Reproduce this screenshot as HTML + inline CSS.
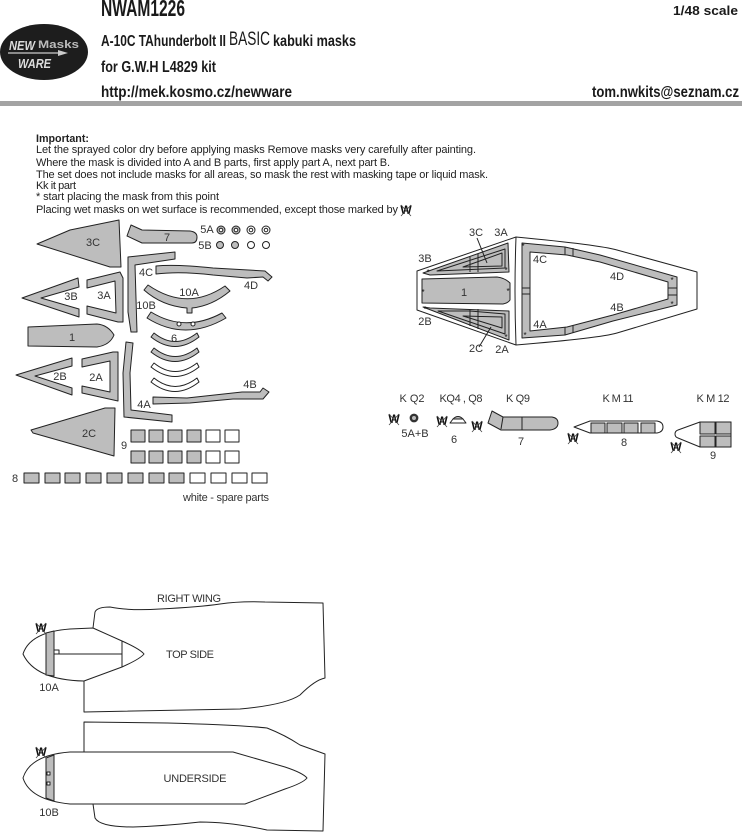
<!DOCTYPE html>
<html><head><meta charset="utf-8"><style>
html,body{margin:0;padding:0;background:#fff;width:742px;height:832px;overflow:hidden}
svg{display:block}
.h{font-family:"Liberation Sans",sans-serif;font-weight:bold;fill:#1a1a1a}
.n{font-family:"Liberation Sans",sans-serif;font-size:11px;fill:#222}
.l{font-family:"Liberation Sans",sans-serif;font-size:11px;fill:#333;text-anchor:middle}
.p{fill:#bdbdbd;stroke:#222;stroke-width:1;stroke-linejoin:round}
.w{fill:#fff;stroke:#222;stroke-width:1;stroke-linejoin:round}
.o{fill:none;stroke:#222;stroke-width:1;stroke-linejoin:round}
.m{font-family:"Liberation Sans",sans-serif;font-size:12px;font-weight:bold;fill:#111;text-anchor:middle}
.s{font-family:"Liberation Sans",sans-serif;font-size:8px;fill:#111;text-anchor:middle}
</style></head><body>
<svg width="742" height="832" viewBox="0 0 742 832" xmlns="http://www.w3.org/2000/svg">
<defs>
<g id="wm"><text class="m" x="0" y="4">W</text><path d="M-5,-5L5,6M5,-5L-5,6" stroke="#444" stroke-width=".8"/></g>
</defs>
<!-- header -->
<ellipse cx="44" cy="52" rx="44" ry="28" fill="#1d1d1d"/>
<text x="9" y="50" font-family="Liberation Sans" font-weight="bold" font-style="italic" font-size="13" fill="#ddd" textLength="26" lengthAdjust="spacingAndGlyphs">NEW</text>
<text x="38" y="48" font-family="Liberation Sans" font-weight="bold" font-size="11" fill="#bbb" textLength="41" lengthAdjust="spacingAndGlyphs">Masks</text>
<path d="M8,53H64" stroke="#ccc" stroke-width="1.2"/><path d="M58,50L68,53L58,56Z" fill="#ccc"/>
<text x="18" y="68" font-family="Liberation Sans" font-weight="bold" font-style="italic" font-size="13" fill="#ddd" textLength="33" lengthAdjust="spacingAndGlyphs">WARE</text>
<text class="h" x="101" y="16" font-size="23" textLength="84" lengthAdjust="spacingAndGlyphs">NWAM1226</text>
<text class="h" x="101" y="46" font-size="16" textLength="125" lengthAdjust="spacingAndGlyphs">A-10C TAhunderbolt II</text>
<text class="h" x="229" y="45" font-size="19" style="font-weight:normal" textLength="41" lengthAdjust="spacingAndGlyphs">BASIC</text>
<text class="h" x="273" y="46" font-size="16" textLength="83" lengthAdjust="spacingAndGlyphs">kabuki masks</text>
<text class="h" x="101" y="72" font-size="16" textLength="115" lengthAdjust="spacingAndGlyphs">for G.W.H L4829 kit</text>
<text class="h" x="101" y="97" font-size="16" textLength="191" lengthAdjust="spacingAndGlyphs">http://mek.kosmo.cz/newware</text>
<text class="h" x="673" y="15" font-size="13" textLength="65" lengthAdjust="spacingAndGlyphs">1/48 scale</text>
<text class="h" x="592" y="97" font-size="16" textLength="147" lengthAdjust="spacingAndGlyphs">tom.nwkits@seznam.cz</text>
<rect x="0" y="101" width="742" height="5" fill="#a3a3a3"/>
<!-- notes -->
<text class="n" x="36" y="142" font-weight="bold" textLength="53" lengthAdjust="spacingAndGlyphs">Important:</text>
<text class="n" x="36" y="153" textLength="440" lengthAdjust="spacing">Let the sprayed color dry before applying masks Remove masks very carefully after painting.</text>
<text class="n" x="36" y="166" textLength="354" lengthAdjust="spacing">Where the mask is divided into A and B parts, first apply part A, next part B.</text>
<text class="n" x="36" y="178" textLength="452" lengthAdjust="spacing">The set does not include masks for all areas, so mask the rest with masking tape or liquid mask.</text>
<text class="n" x="36" y="189" textLength="40" lengthAdjust="spacing">Kk it part</text>
<text class="n" x="36" y="200" textLength="183" lengthAdjust="spacing">* start placing the mask from this point</text>
<text class="n" x="36" y="213" textLength="362" lengthAdjust="spacing">Placing wet masks on wet surface is recommended, except those marked by</text>
<use href="#wm" x="406" y="210"/>
<!-- left parts -->
<path class="p" d="M37,244L70,230L119,220L121,267L110,267Z"/>
<path class="p" d="M127,236L131,225L142,230L190,231Q197,232 197,237Q197,243 192,243L142,243Z"/>
<path class="p" d="M128,257L175,252V259L135,265L137,332L131,332L128,312Z"/>
<path class="p" d="M156,266Q175,264 213,268L265,271L272,277L268,281L263,277L247,278L213,275Q180,271 156,274Z"/>
<path class="p" d="M144,290L148,285Q187,312 225,286L230,291Q212,306 192,308V313H187V308Q162,306 144,290Z"/>
<path class="p" d="M147,318L151,312Q185,333 222,313L226,318Q185,342 147,318Z"/>
<circle cx="179" cy="324" r="2" class="w"/><circle cx="193" cy="324" r="2" class="w"/>
<path class="p" d="M151,337L154,333Q175,350 197,333L199,337Q175,356 151,337Z"/>
<path class="p" d="M151,352L154,348Q175,365 197,348L199,352Q175,371 151,352Z"/>
<path class="w" d="M151,367L154,363Q175,380 197,363L199,367Q175,386 151,367Z"/>
<path class="w" d="M151,382L154,378Q175,395 197,378L199,382Q175,401 151,382Z"/>
<path class="p" d="M22,298L78,278L79,287L41,298L79,309V317Z"/>
<path class="p" d="M87,280L120,272L123,278V322L118,322L87,314V306L116,313L115,281L87,288Z"/>
<path class="p" d="M28,327L97,324Q108,325 114,335Q110,345 97,347L28,346Z"/>
<path class="p" d="M126,342L133,343L130,373L131,410L172,415V422L124,417L123,373Z"/>
<path class="p" d="M153,397L187,398L242,392L260,392L263,388L269,392L263,399H233L190,403L153,404Z"/>
<path class="p" d="M16,375L72,358V366L35,376L72,388V395Z"/>
<path class="p" d="M82,359L113,352H118V401L82,393V386L110,392V361L82,367Z"/>
<path class="p" d="M31,430L105,408H115L114,456L33,433Z"/>
<g>
<circle class="p" cx="221" cy="230" r="4"/><circle class="w" cx="221" cy="230" r="1.8"/>
<circle class="p" cx="236" cy="230" r="4"/><circle class="w" cx="236" cy="230" r="1.8"/>
<circle class="w" cx="251" cy="230" r="4"/><circle class="w" cx="251" cy="230" r="1.8"/>
<circle class="w" cx="266" cy="230" r="4"/><circle class="w" cx="266" cy="230" r="1.8"/>
<circle class="p" cx="220" cy="245" r="3.5"/><circle class="p" cx="235" cy="245" r="3.5"/>
<circle class="w" cx="251" cy="245" r="3.5"/><circle class="w" cx="266" cy="245" r="3.5"/>
</g>
<!-- squares -->
<g>
<rect class="p" x="131" y="430" width="14" height="12"/><rect class="p" x="149" y="430" width="14" height="12"/><rect class="p" x="168" y="430" width="14" height="12"/><rect class="p" x="187" y="430" width="14" height="12"/>
<rect class="w" x="206" y="430" width="14" height="12"/><rect class="w" x="225" y="430" width="14" height="12"/>
<rect class="p" x="131" y="451" width="14" height="12"/><rect class="p" x="149" y="451" width="14" height="12"/><rect class="p" x="168" y="451" width="14" height="12"/><rect class="p" x="187" y="451" width="14" height="12"/>
<rect class="w" x="206" y="451" width="14" height="12"/><rect class="w" x="225" y="451" width="14" height="12"/>
<rect class="p" x="24" y="473" width="15" height="10"/><rect class="p" x="45" y="473" width="15" height="10"/><rect class="p" x="65" y="473" width="15" height="10"/><rect class="p" x="86" y="473" width="15" height="10"/>
<rect class="p" x="107" y="473" width="15" height="10"/><rect class="p" x="128" y="473" width="15" height="10"/><rect class="p" x="149" y="473" width="15" height="10"/><rect class="p" x="169" y="473" width="15" height="10"/>
<rect class="w" x="190" y="473" width="15" height="10"/><rect class="w" x="211" y="473" width="15" height="10"/><rect class="w" x="232" y="473" width="15" height="10"/><rect class="w" x="252" y="473" width="15" height="10"/>
</g>
<!-- labels left -->
<g>
<text class="l" x="93" y="246">3C</text><text class="l" x="167" y="241">7</text>
<text class="l" x="207" y="233">5A</text><text class="l" x="205" y="249">5B</text>
<text class="l" x="146" y="276">4C</text><text class="l" x="251" y="289">4D</text>
<text class="l" x="189" y="296">10A</text><text class="l" x="146" y="309">10B</text>
<text class="l" x="71" y="300">3B</text><text class="l" x="104" y="299">3A</text>
<text class="l" x="72" y="341">1</text><text class="l" x="174" y="342">6</text>
<text class="l" x="60" y="380">2B</text><text class="l" x="96" y="381">2A</text>
<text class="l" x="144" y="408">4A</text><text class="l" x="250" y="388">4B</text>
<text class="l" x="89" y="437">2C</text><text class="l" x="124" y="449">9</text>
<text class="l" x="15" y="482">8</text>
<text class="l" x="226" y="501" textLength="86" lengthAdjust="spacing">white - spare parts</text>
</g>
<!-- canopy -->
<path class="o" d="M417,271L516,237Q600,245 617,250L697,272V309L617,333Q600,338 516,345L417,310Z"/>
<path class="o" d="M516,237Q514,291 516,345"/>
<path class="p" d="M522,243L565,247L600,255L677,277V305L613,321L565,335L522,338Z"/>
<path class="w" d="M530,252L567,255L600,262L668,282V299L613,315L567,327L530,331Z"/>
<path class="o" d="M565,247V255M573,248V256M565,327V335M573,325V333M522,288H530M522,294H530M668,288H677M668,295H677"/>
<path class="p" d="M423,273L508,243L509,272L430,275Z"/>
<path class="o" d="M437,271L505,249V268L437,271ZM463,267L502,253V266ZM470,257V272M478,254V272"/>
<path class="p" d="M422,279L497,277Q505,278 510,283V300Q508,303 503,304L422,303Z"/>
<path class="p" d="M423,307L430,308L509,311V340Z"/>
<path class="o" d="M438,311L505,334V314L470,311ZM463,316L502,328V317ZM470,309V326M478,309V329"/>
<path class="o" d="M477,238L487,263M491,327L479,347"/>
<g class="s">
<text class="s" x="428" y="275">*</text><text class="s" x="506" y="273">*</text><text class="s" x="523" y="249">*</text>
<text class="s" x="672" y="283">*</text><text class="s" x="672" y="307">*</text><text class="s" x="525" y="338">*</text>
<text class="s" x="423" y="295">*</text><text class="s" x="508" y="294">*</text><text class="s" x="425" y="312">*</text><text class="s" x="506" y="340">*</text>
</g>
<g>
<text class="l" x="476" y="236">3C</text><text class="l" x="501" y="236">3A</text>
<text class="l" x="425" y="262">3B</text><text class="l" x="425" y="325">2B</text>
<text class="l" x="476" y="352">2C</text><text class="l" x="502" y="353">2A</text>
<text class="l" x="540" y="263">4C</text><text class="l" x="617" y="280">4D</text>
<text class="l" x="540" y="328">4A</text><text class="l" x="617" y="311">4B</text>
<text class="l" x="464" y="296">1</text>
</g>
<!-- small parts -->
<text class="l" x="412" y="402" textLength="25" lengthAdjust="spacing">K Q2</text>
<text class="l" x="461" y="402" textLength="43" lengthAdjust="spacing">KQ4 , Q8</text>
<text class="l" x="518" y="402" textLength="24" lengthAdjust="spacing">K Q9</text>
<text class="l" x="618" y="402" textLength="31" lengthAdjust="spacing">K M 11</text>
<text class="l" x="713" y="402" textLength="33" lengthAdjust="spacing">K M 12</text>
<circle cx="414" cy="418" r="3.2" fill="#bbb" stroke="#333" stroke-width="2.4"/>
<path class="p" d="M453,419Q458,414 463,419Z"/><path class="w" d="M450,423L453,419H463L466,423Z"/>
<path class="p" d="M492,411L503,417H552Q558,418 558,423Q558,429 550,430H501L488,423Z"/>
<path class="o" d="M522,417V430M503,417L501,429"/>
<path class="w" d="M574,427L590,421H657Q663,422 663,427Q663,432 657,433H590Z"/>
<rect class="p" x="591" y="423" width="14" height="10"/><rect class="p" x="607" y="423" width="15" height="10"/><rect class="p" x="624" y="423" width="14" height="10"/><rect class="p" x="641" y="423" width="14" height="10"/>
<path class="w" d="M675,434Q675,431 678,430L700,422H731V447H700L678,438Q675,437 675,434Z"/>
<rect class="p" x="700" y="422" width="15" height="12"/><rect class="p" x="716" y="422" width="15" height="12"/><rect class="p" x="700" y="436" width="15" height="11"/><rect class="p" x="716" y="436" width="15" height="11"/>
<use href="#wm" x="394" y="419"/><use href="#wm" x="442" y="421"/><use href="#wm" x="477" y="426"/><use href="#wm" x="573" y="438"/><use href="#wm" x="676" y="447"/>
<text class="l" x="415" y="437">5A+B</text><text class="l" x="454" y="443">6</text><text class="l" x="521" y="445">7</text><text class="l" x="624" y="446">8</text><text class="l" x="713" y="459">9</text>
<!-- wing top -->
<path class="o" d="M93,628L95,612Q97,607 110,607Q130,611 160,609Q200,607 220,604Q240,601 265,602L323,603L325,678Q315,680 300,695Q285,705 240,709L84,712V681"/>
<path class="w" d="M23,654Q30,632 70,629L93,628L122,641Q140,649 144,654Q140,659 122,667L84,681Q35,680 23,654Z"/>
<path class="p" d="M46,633L54,631V676L46,675Z"/>
<path class="o" d="M54,654H122M122,641V667M54,650H59V654"/>
<!-- wing under -->
<path class="o" d="M84,752V722L167,723Q240,725 267,728Q285,735 300,745L325,754L323,831L267,830Q230,822 200,822Q165,826 133,827Q100,827 95,818L93,804"/>
<path class="w" d="M23,778Q30,755 70,752H233L285,767Q303,773 307,778Q303,783 285,789L245,804H70Q30,800 23,778Z"/>
<path class="p" d="M46,758L54,755V801L46,798Z"/>
<rect x="47" y="772" width="3" height="3" class="w"/><rect x="47" y="782" width="3" height="3" class="w"/>
<use href="#wm" x="41" y="628"/><use href="#wm" x="41" y="752"/>
<text class="l" x="189" y="602" textLength="64" lengthAdjust="spacing">RIGHT WING</text>
<text class="l" x="190" y="658" textLength="48" lengthAdjust="spacing">TOP SIDE</text>
<text class="l" x="195" y="782" textLength="63" lengthAdjust="spacing">UNDERSIDE</text>
<text class="l" x="49" y="691">10A</text><text class="l" x="49" y="816">10B</text>
</svg>
</body></html>
